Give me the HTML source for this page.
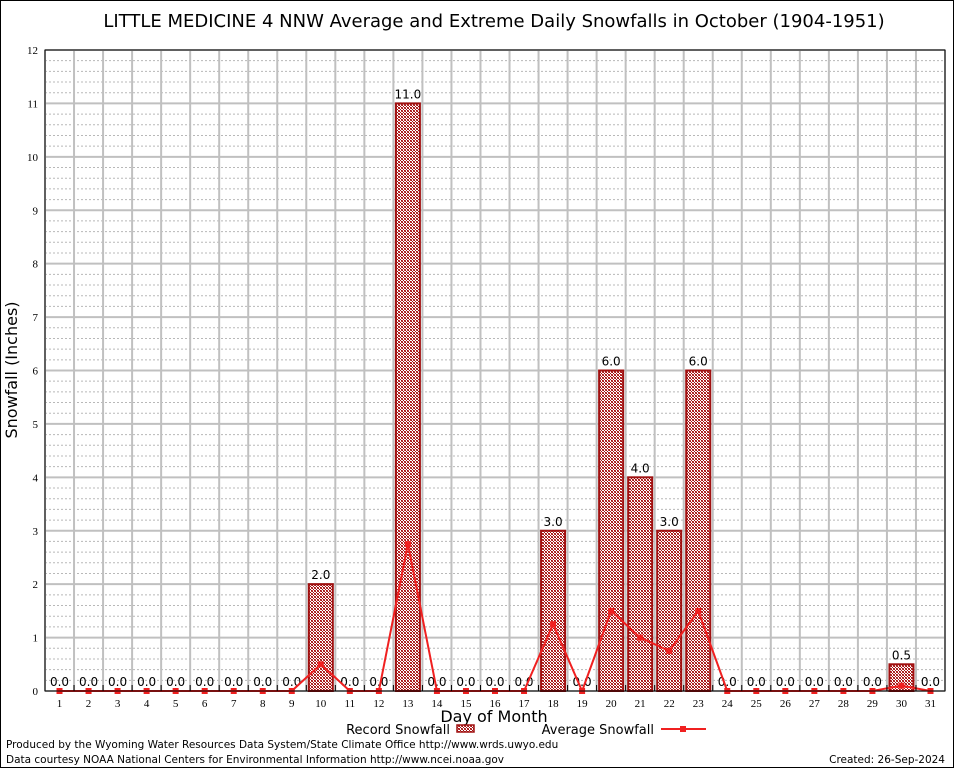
<!DOCTYPE html>
<html><head><meta charset="utf-8"><style>
body{margin:0;background:#fff;}
svg{display:block;font-family:"DejaVu Sans","Liberation Sans",sans-serif;}
</style></head><body>
<svg id="chart" width="954" height="768" xmlns="http://www.w3.org/2000/svg">
<defs>
<pattern id="chk" width="3" height="3" patternUnits="userSpaceOnUse">
<rect width="3" height="3" fill="#fff"/><rect width="1" height="1" fill="#a01010"/><rect x="1" y="1" width="1" height="1" fill="#a01010"/><rect x="2" y="2" width="1" height="1" fill="#a01010"/><rect x="2" y="0" width="1" height="1" fill="#c04040"/><rect x="0" y="2" width="1" height="1" fill="#c04040"/>
</pattern>
</defs>
<rect x="0.5" y="0.5" width="953" height="767" fill="#fff" stroke="#000"/>
<text x="494" y="27" font-size="18" text-anchor="middle">LITTLE MEDICINE 4 NNW Average and Extreme Daily Snowfalls in October (1904-1951)</text>
<g id="grid"></g>
<g id="bars"></g>
<g id="line"></g>
<rect x="45" y="50" width="900" height="641" fill="none" stroke="#000"/>
<g id="axes"></g>
<text transform="translate(17,370) rotate(-90)" font-size="16" text-anchor="middle">Snowfall (Inches)</text>
<text x="494" y="722" font-size="16" text-anchor="middle">Day of Month</text>
<g>
<text x="450" y="734" font-size="13" text-anchor="end">Record Snowfall</text>
<rect x="457" y="725" width="17" height="7" fill="url(#chk)" stroke="#a01010" stroke-width="1.5"/>
<text x="654" y="734" font-size="13" text-anchor="end">Average Snowfall</text>
<line x1="661" y1="729" x2="706" y2="729" stroke="#f02020" stroke-width="2"/>
<rect x="680" y="726" width="6" height="6" fill="#f02020"/>
</g>
<text x="6" y="748" font-size="10.5">Produced by the Wyoming Water Resources Data System/State Climate Office http://www.wrds.uwyo.edu</text>
<text x="6" y="763" font-size="10.5">Data courtesy NOAA National Centers for Environmental Information http://www.ncei.noaa.gov</text>
<text x="945" y="763" font-size="10.5" text-anchor="end">Created: 26-Sep-2024</text>
</svg>
<script>
const days = [1,2,3,4,5,6,7,8,9,10,11,12,13,14,15,16,17,18,19,20,21,22,23,24,25,26,27,28,29,30,31];
const recordValues = [0,0,0,0,0,0,0,0,0,2,0,0,11,0,0,0,0,3,0,6,4,3,6,0,0,0,0,0,0,0.5,0];
const averageValues = [0,0,0,0,0,0,0,0,0,0.5,0,0,2.75,0,0,0,0,1.25,0,1.5,1.0,0.75,1.5,0,0,0,0,0,0,0.1,0];
const yTicks = [0,1,2,3,4,5,6,7,8,9,10,11,12];

const NS="http://www.w3.org/2000/svg";
const X0=45,X1=945,Y0=691,Y1=50;
const yMax=12;
function xs(d){return X0+(d-0.5)*(X1-X0)/31;}
function ys(v){return Y0-v*(Y0-Y1)/yMax;}
function mk(parent,tag,attrs,text){const e=document.createElementNS(NS,tag);for(const k in attrs)e.setAttribute(k,attrs[k]);if(text!==undefined)e.textContent=text;parent.appendChild(e);return e;}
const grid=document.getElementById('grid'),bars=document.getElementById('bars'),line=document.getElementById('line'),axes=document.getElementById('axes');
for(let v=0;v<yMax;v+=0.2){
  const y=ys(v);
  const l=mk(grid,'line',{x1:X0,x2:X1,y1:y,y2:y,stroke:'#b8b8b8','stroke-dasharray':'2,2','stroke-width':1});
  
  
}
for(let i=0;i<=31;i++){
  const x=X0+i*(X1-X0)/31;
  const l=mk(grid,'line',{x1:x,x2:x,y1:Y1,y2:Y0,stroke:'#c0c0c0','stroke-width':2});
  
  
  const t=mk(axes,'line',{x1:x,x2:x,y1:Y0,y2:Y0-6,stroke:'#000'});
  
  
}
yTicks.forEach(v=>{
  const y=ys(v);
  const l=mk(grid,'line',{x1:X0,x2:X1,y1:y,y2:y,stroke:'#c0c0c0','stroke-width':2});
  
  
  const t=mk(axes,'text',{x:38,y:y+4,'font-size':11,'text-anchor':'end','font-family':'Liberation Serif, serif'},String(v));
  
  
});
days.forEach((d,i)=>{
  const x=xs(d),v=recordValues[i];
  if(v>0){
    const r=mk(bars,'rect',{x:x-12,y:ys(v),width:24,height:Y0-ys(v),fill:'url(#chk)',stroke:'#a01010','stroke-width':2});
    
    
  }
  const lb=mk(bars,'text',{x:x,y:ys(v)-5,'font-size':12,'text-anchor':'middle'},v.toFixed(1));
  
  
  const tl=mk(axes,'text',{x:x,y:707,'font-size':11,'text-anchor':'middle','font-family':'Liberation Serif, serif'},String(d));
  
  
});
const pts=days.map((d,i)=>xs(d)+','+ys(averageValues[i])).join(' ');
const pl=mk(line,'polyline',{points:pts,fill:'none',stroke:'#f02020','stroke-width':2});


days.forEach((d,i)=>{
  const m=mk(line,'rect',{x:xs(d)-3,y:ys(averageValues[i])-3,width:6,height:6,fill:'#f02020'});
  
  
});
</script>
</body></html>
